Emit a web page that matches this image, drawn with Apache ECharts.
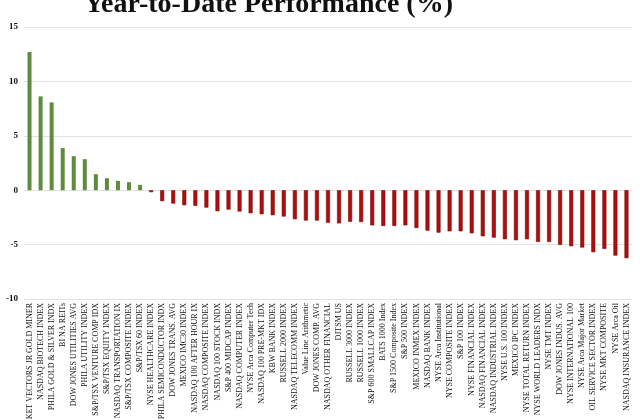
<!DOCTYPE html>
<html>
<head>
<meta charset="utf-8">
<script src="https://cdn.jsdelivr.net/npm/echarts@6/dist/echarts.min.js"></script>
<style>html,body{margin:0;padding:0;background:#fff}#c{width:640px;height:420px}</style>
</head>
<body>
<div id="c"></div>
<script>
const categories = [
  "MARKET VECTORS JR GOLD MINER","NASDAQ BIOTECH INDEX","PHILA GOLD & SILVER INDX","BI NA REITs",
  "DOW JONES UTILITIES AVG","PHILA UTILITY INDEX","S&P/TSX VENTURE COMP IDX","S&P/TSX EQUITY INDEX",
  "NASDAQ TRANSPORTATION IX","S&P/TSX COMPOSITE INDEX","S&P/TSX 60 INDEX","NYSE HEALTHCARE INDEX",
  "PHILA SEMICONDUCTOR INDX","DOW JONES TRANS. AVG","MEXICO IMC30 INDEX","NASDAQ 100 AFTER HOUR IX",
  "NASDAQ COMPOSITE INDEX","NASDAQ 100 STOCK INDX","S&P 400 MIDCAP INDEX","NASDAQ COMPUTER INDEX",
  "NYSE Arca Computer Tech","NASDAQ 100 PRE-MKT IDX","KBW BANK INDEX","RUSSELL 2000 INDEX",
  "NASDAQ TELECOMM INDEX","Value Line Arithmetic","DOW JONES COMP. AVG","NASDAQ OTHER FINANCIAL",
  "DJTSM US","RUSSELL 3000 INDEX","RUSSELL 1000 INDEX","S&P 600 SMALLCAP INDEX",
  "BATS 1000 Index","S&P 1500 Composite Index","S&P 500 INDEX","MEXICO INMEX INDEX",
  "NASDAQ BANK INDEX","NYSE Arca Institutional","NYSE COMPOSITE INDEX","S&P 100 INDEX",
  "NYSE FINANCIAL INDEX","NASDAQ FINANCIAL INDEX","NASDAQ INDUSTRIAL INDEX","NYSE U.S. 100 INDEX",
  "MEXICO IPC INDEX","NYSE TOTAL RETURN INDEX","NYSE WORLD LEADERS INDX","NYSE TMT INDEX",
  "DOW JONES INDUS. AVG","NYSE INTERNATIONAL 100","NYSE Arca Major Market","OIL SERVICE SECTOR INDEX",
  "NYSE MKT COMPOSITE","NYSE Arca Oil","NASDAQ INSURANCE INDEX"
];
const ytdValues = [
  12.7, 8.62, 8.07, 3.87, 3.13, 2.85, 1.47, 1.10, 0.86, 0.74, 0.49, -0.18,
  -1.01, -1.23, -1.38, -1.44, -1.60, -1.93, -1.78, -1.96, -2.12, -2.21, -2.30, -2.42,
  -2.67, -2.79, -2.79, -2.99, -3.05, -2.90, -2.93, -3.23, -3.29, -3.29, -3.23, -3.48,
  -3.72, -3.90, -3.78, -3.78, -3.96, -4.24, -4.36, -4.51, -4.60, -4.51, -4.76, -4.76,
  -5.03, -5.15, -5.27, -5.70, -5.40, -6.01, -6.25
];
const yTicks = [-10, -5, 0, 5, 10, 15];

const chart = echarts.init(document.getElementById('c'));
chart.setOption({
  animation: false,
  backgroundColor: '#fff',
  title: {
    text: 'Year-to-Date Performance (%)',
    left: 79,
    top: -14,
    textStyle: { fontFamily: 'Liberation Serif', fontWeight: 'bold', fontSize: 28, color: '#111' }
  },
  grid: { left: 24, right: 8, top: 27, bottom: 121, outerBoundsMode: 'none', containLabel: false },
  xAxis: {
    type: 'category',
    data: categories,
    axisLine: { show: false },
    axisTick: { show: false },
    axisLabel: {
      interval: 0, rotate: 90, fontFamily: 'Liberation Serif', fontSize: 8, color: '#111', margin: 4
    }
  },
  yAxis: {
    type: 'value',
    min: yTicks[0], max: yTicks[yTicks.length - 1], interval: 5,
    axisLine: { show: false },
    axisTick: { show: false },
    splitLine: { lineStyle: { color: '#e2e2e2', width: 1 } },
    axisLabel: { fontFamily: 'Liberation Serif', fontWeight: 'bold', fontSize: 9, color: '#111', margin: 6 }
  },
  series: [{
    type: 'bar',
    data: ytdValues.map(v => ({
      value: v,
      itemStyle: v >= 0
        ? { color: '#5e8b3e' }
        : { color: '#b00d0d', borderColor: '#7a0a0a', borderWidth: 0.6 }
    })),
    barWidth: 4
  }]
});
</script>
</body>
</html>
